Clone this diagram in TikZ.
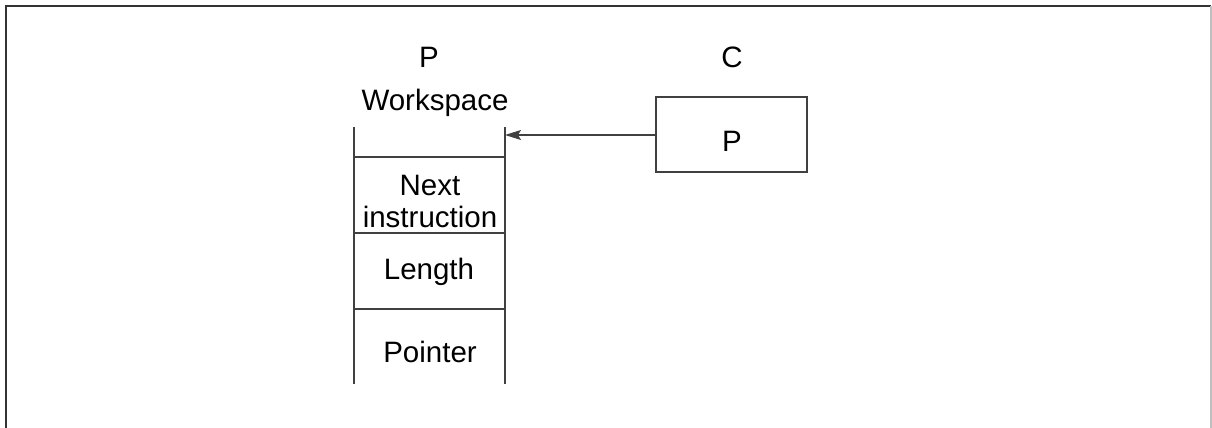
\documentclass[tikz,border=0pt]{standalone}
\usepackage{fontspec}
\setmainfont{Liberation Sans}
\usetikzlibrary{arrows.meta}
\begin{document}
\begin{tikzpicture}[x=1pt,y=-1pt,
  lbl/.style={anchor=base,inner sep=0pt,font=\fontsize{29.5}{31}\selectfont},
  ln/.style={line width=1.2pt,draw=black!75},
  frame/.style={line width=2pt}]
\useasboundingbox (0,0) rectangle (1212,428);
% frame
\draw[frame,draw=black!80] (6,428) -- (6,6) -- (1211,6);
\draw[line width=1.5pt,draw=black!25] (1211,6) -- (1211,428);
% stack
\coordinate (sTL) at (354,127);
\coordinate (sTR) at (505,127);
\coordinate (sBL) at (354,384);
\coordinate (sBR) at (505,384);
\draw[ln] (sTL) -- (sBL);
\draw[ln] (sTR) -- (sBR);
\coordinate (h1l) at (354,157); \coordinate (h1r) at (505,157);
\coordinate (h2l) at (354,233); \coordinate (h2r) at (505,233);
\coordinate (h3l) at (354,309); \coordinate (h3r) at (505,309);
\draw[ln] (h1l) -- (h1r);
\draw[ln] (h2l) -- (h2r);
\draw[ln] (h3l) -- (h3r);
\node[lbl] (ptop) at (429,67) {P};
\node[lbl] (ws) at (435,110) {Workspace};
\node[lbl] (next) at (430,195) {Next};
\node[lbl] (instr) at (430,227) {instruction};
\node[lbl] (len) at (429,279) {Length};
\node[lbl] (ptr) at (430,362) {Pointer};
% C box
\node[lbl] (c) at (732,67) {C};
\node[ln,draw,minimum width=151pt,minimum height=75pt,inner sep=0pt] (cbox) at (731.5,134.5) {};
\node[lbl] (cp) at (732,151) {P};
\coordinate (tip) at (505,135);
\draw[ln,-{Stealth[length=16pt,width=10pt,inset=3pt]}] (cbox.west |- tip) -- (tip);
\end{tikzpicture}
\end{document}
